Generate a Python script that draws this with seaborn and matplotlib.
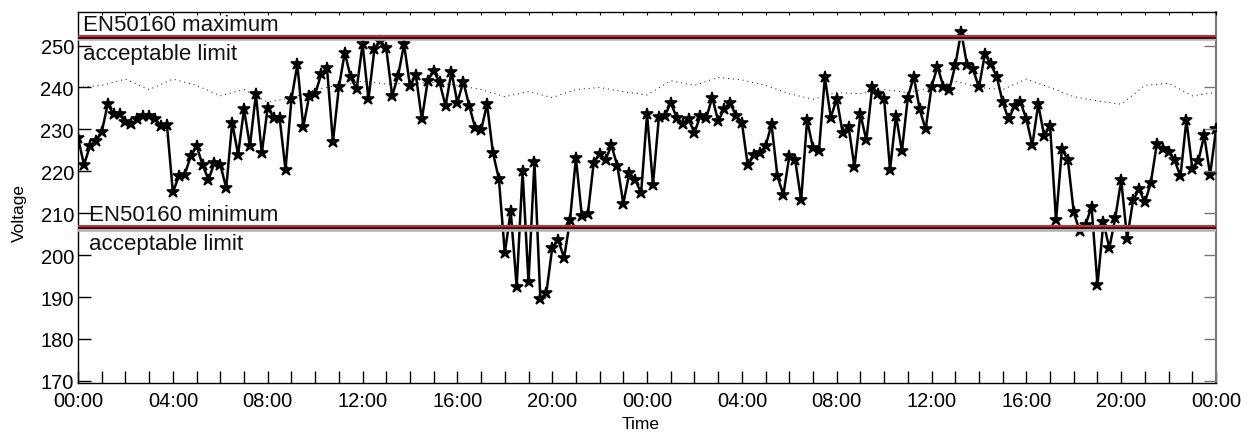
import numpy as np
import pandas as pd
import matplotlib
matplotlib.use("Agg")
import matplotlib.pyplot as plt
import matplotlib.dates as mdates
import seaborn as sns

# measured voltage, one reading every 15 minutes over two days
volts = [
    228, 221.5, 226, 227.2, 229.4, 236, 233.6, 233.7, 231.7, 231.2, 232.4, 233.2,
    233.2, 232.4, 230.8, 231, 215, 218.8, 219.2, 223.6, 226, 221.6, 218, 222,
    221.6, 216, 231.6, 224, 234.8, 226, 238.4, 224.4, 235.2, 232.8, 232.8, 220.4,
    237.2, 245.5, 230.6, 238, 238.4, 243.1, 244.7, 227, 240, 248.3, 242.4, 239.6,
    250.3, 237.2, 249.1, 251.1, 249.3, 238, 242.8, 250.3, 240.4, 242.9, 232.4, 241.6,
    244, 241.2, 235.6, 243.7, 236.4, 241.4, 235.6, 230.4, 229.8, 236, 224.4, 218.2,
    200.5, 210.5, 192.5, 220, 193.5, 222.2, 189.5, 190.9, 201.7, 203.7, 199.3, 208.3,
    223.2, 209.3, 209.7, 222, 224.2, 222.8, 226.2, 221.2, 212.3, 219.6, 218, 214.8,
    233.6, 216.8, 233, 233.2, 236.4, 232.8, 231.4, 232.4, 229.2, 233.3, 232.8, 237.6,
    232, 234.8, 236.4, 233.3, 231.6, 221.4, 223.8, 224.4, 226, 231.2, 218.8, 214.4,
    223.6, 222.6, 213.1, 232.2, 225.6, 224.8, 242.4, 232.8, 237.3, 229.2, 230.6, 221,
    233.6, 227.4, 240.2, 238.4, 237.2, 220.4, 233.3, 224.8, 237.6, 242.6, 234.8, 230,
    240.2, 245, 240.2, 239.4, 245.3, 253.3, 245.3, 244.3, 240, 248, 245.5, 242.6,
    236.5, 232.4, 235.6, 236.5, 232.5, 226.2, 236, 228.5, 230.8, 208.3, 225.4, 222.7,
    210.2, 205.7, 207.3, 211.6, 192.9, 207.8, 201.7, 208.9, 217.9, 203.9, 213.1, 215.7,
    212.6, 217.3, 226.4, 225.4, 224.6, 222.7, 218.8, 232.2, 220.6, 222.4, 228.6, 219.2,
    230,
]

# dotted reference trace, hourly
ref_volts = [
    240, 240.5, 242, 239.5, 242, 240.5, 238, 239.5, 236.5, 237.5, 239.5, 240.5,
    241.5, 240.8, 241, 241.2, 240.5, 239.5, 237.8, 239, 237.6, 239.5, 240, 239,
    238.2, 241.6, 240.5, 242.4, 241.8, 240.5, 238.5, 237.2, 238.8, 238.5, 239.5, 238.8,
    240, 241.5, 240, 239.5, 242, 240, 237.8, 236.8, 236, 240.5, 241, 238,
    238.8,
]

limit_max = 252.3
limit_min = 206.8

t = pd.date_range("2012-01-01", periods=len(volts), freq="15min")
t_ref = pd.date_range("2012-01-01", periods=len(ref_volts), freq="h")

sns.set_style("white")
plt.rcParams['font.family'] = ['Liberation Sans', 'DejaVu Sans']
plt.rcParams['text.color'] = 'black'
plt.rcParams['axes.labelcolor'] = 'black'
plt.rcParams['xtick.labelcolor'] = 'black'
plt.rcParams['ytick.labelcolor'] = 'black'

fig = plt.figure(figsize=(12.53, 4.35), dpi=100)
ax = fig.add_axes([0.0623, 0.1172, 0.9082, 0.8529])

sns.lineplot(x=t_ref, y=ref_volts, ax=ax, color="black", lw=0.7,
             linestyle=(0, (1, 4)), zorder=2)
sns.lineplot(x=t, y=volts, ax=ax, color="black", lw=1.8, marker="*",
             markersize=9, markeredgecolor="black", markeredgewidth=1.2, zorder=3)

for v in [limit_max, limit_min]:
    ax.axhline(v - 0.5, color="#b5b5b5", lw=4, zorder=4)
    ax.axhline(v - 0.2, color="#1e1e1e", lw=2.2, zorder=5)
    ax.axhline(v + 0.08, color="#d8262a", lw=1.5, zorder=6)

tr = ax.get_yaxis_transform()
ax.text(0.0044, 253.6, "EN50160 maximum", transform=tr, fontsize=16, va="baseline", color="#111111")
ax.text(0.0044, 246.7, "acceptable limit", transform=tr, fontsize=16, va="baseline", color="#111111")
ax.text(0.0097, 208.4, "EN50160 minimum", transform=tr, fontsize=16, va="baseline", color="#111111")
ax.text(0.0097, 201.5, "acceptable limit", transform=tr, fontsize=16, va="baseline", color="#111111")

ax.set_xlim(t[0], t[-1])
ax.set_ylim(169.5, 258)
ax.set_yticks(range(170, 251, 10))

ax.xaxis.set_major_locator(mdates.HourLocator(byhour=range(0, 24, 4)))
ax.xaxis.set_major_formatter(mdates.DateFormatter("%H:%M"))
ax.xaxis.set_minor_locator(mdates.HourLocator())
ax.tick_params(axis="x", which="both", direction="in", length=9, width=1,
               color="black", labelcolor="black", labelsize=14.5, pad=6)
ax.tick_params(axis="y", direction="in", length=9, width=1, color="black",
               labelcolor="black", labelsize=14.5, pad=3)

for s in ["left", "bottom", "top"]:
    ax.spines[s].set_color("black")
    ax.spines[s].set_linewidth(1)
ax.spines["right"].set_color("#777777")
ax.spines["right"].set_linewidth(1.5)

# short ticks along the top edge
top = ax.twiny()
top.set_xlim(ax.get_xlim())
top.set_xticks(mdates.date2num(t_ref))
top.tick_params(direction="in", length=2, labeltop=False, color="black")
# grey ticks on the right edge
right = ax.twinx()
right.set_ylim(ax.get_ylim())
right.set_yticks(range(170, 251, 10))
right.tick_params(direction="in", length=9, width=1, labelright=False, color="#777777")
for a in [top, right]:
    for s in a.spines.values():
        s.set_visible(False)

ax.set_xlabel("Time", fontsize=12.5, color="black")
ax.set_ylabel("Voltage", fontsize=12.5, color="black")
ax.xaxis.set_label_coords(0.494, -0.088)
ax.yaxis.set_label_coords(-0.045, 0.46)

fig.savefig("out.png", dpi=100)
